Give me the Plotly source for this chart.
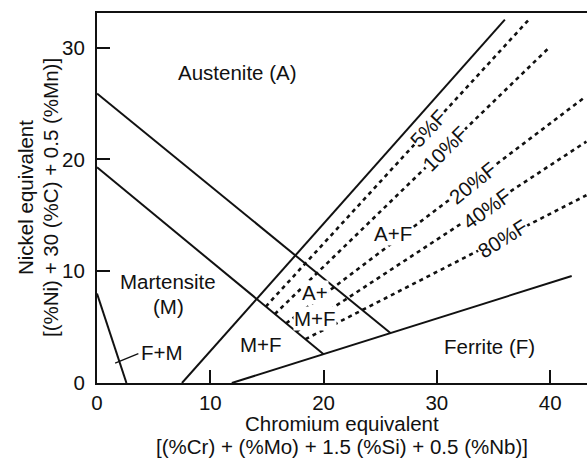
import plotly.graph_objects as go

# Phase boundaries (Cr equivalent, Ni equivalent)
austenite_boundary_x = [0.0, 25.9]
austenite_boundary_y = [25.9, 4.47]
martensite_boundary_x = [0.0, 20.0]
martensite_boundary_y = [19.3, 2.58]
ferrite_boundary_x = [11.9, 41.9]
ferrite_boundary_y = [0.0, 9.57]
zero_ferrite_x = [7.5, 36.0]
zero_ferrite_y = [0.0, 32.5]
fm_boundary_x = [0.0, 2.6]
fm_boundary_y = [8.0, 0.0]

# Iso-ferrite lines
ferrite_pct = ["5%F", "10%F", "20%F", "40%F", "80%F"]
iso_start_x = [14.9, 15.7, 16.7, 17.6, 18.4]
iso_start_y = [6.84, 6.17, 5.34, 4.59, 3.92]
iso_end_x = [38.2, 39.8, 43.1, 43.2, 43.2]
iso_end_y = [32.6, 29.9, 25.6, 21.6, 16.8]
iso_label_x = [29.2, 30.7, 33.2, 34.4, 35.8]
iso_label_y = [22.8, 21.0, 17.9, 15.6, 12.9]
iso_label_angle = [-47, -45, -39, -36, -32]

# Phase-field labels
region_text = ["Austenite (A)", "Martensite", "(M)", "F+M", "M+F",
               "A+", "M+F", "A+F", "Ferrite (F)"]
region_x = [12.4, 6.3, 6.3, 5.7, 14.5, 19.2, 19.2, 26.1, 34.6]
region_y = [27.8, 9.1, 6.85, 2.7, 3.45, 8.1, 5.8, 13.4, 3.3]
# Labels that sit on top of iso-ferrite lines get a white backing
region_backed = [False, False, False, False, False, True, True, True, False]

# Leader from the F+M label to its field
leader_x = [3.65, 1.6]
leader_y = [2.62, 1.77]

x_ticks = [0, 10, 20, 30, 40]
y_ticks = [0, 10, 20, 30]

FONT = "Liberation Sans, Arial, Helvetica, sans-serif"
FS = 20.5
INK = "#111111"

fig = go.Figure()

solid = dict(color=INK, width=2)
for xs, ys in [(austenite_boundary_x, austenite_boundary_y),
               (martensite_boundary_x, martensite_boundary_y),
               (ferrite_boundary_x, ferrite_boundary_y),
               (zero_ferrite_x, zero_ferrite_y),
               (fm_boundary_x, fm_boundary_y)]:
    fig.add_trace(go.Scatter(x=xs, y=ys, mode="lines", line=solid,
                             hoverinfo="skip", showlegend=False))

fig.add_trace(go.Scatter(x=leader_x, y=leader_y, mode="lines",
                         line=dict(color=INK, width=1.3),
                         hoverinfo="skip", showlegend=False))

for i in range(len(ferrite_pct)):
    fig.add_trace(go.Scatter(
        x=[iso_start_x[i], iso_end_x[i]], y=[iso_start_y[i], iso_end_y[i]],
        mode="lines", line=dict(color=INK, width=2.6, dash="4px,4px"),
        hoverinfo="skip", showlegend=False))

annotations = []
for t, x, y, backed in zip(region_text, region_x, region_y, region_backed):
    annotations.append(dict(x=x, y=y, xref="x", yref="y", text=t,
                            showarrow=False, borderpad=0,
                            bgcolor="white" if backed else "rgba(0,0,0,0)",
                            font=dict(family=FONT, size=FS, color=INK)))

for t, x, y, a in zip(ferrite_pct, iso_label_x, iso_label_y, iso_label_angle):
    annotations.append(dict(x=x, y=y, xref="x", yref="y", text=t,
                            textangle=a, showarrow=False, bgcolor="white",
                            borderpad=0,
                            font=dict(family=FONT, size=FS, color=INK)))

# Axis titles
annotations += [
    dict(x=0.5, y=0, xref="paper", yref="paper", yshift=-40,
         yanchor="middle", xanchor="center",
         text="Chromium equivalent", showarrow=False,
         font=dict(family=FONT, size=FS, color=INK)),
    dict(x=0.5, y=0, xref="paper", yref="paper", yshift=-63,
         yanchor="middle", xanchor="center",
         text="[(%Cr) + (%Mo) + 1.5 (%Si) + 0.5 (%Nb)]", showarrow=False,
         font=dict(family=FONT, size=FS, color=INK)),
    dict(x=0, y=0.5, xref="paper", yref="paper", xshift=-72,
         xanchor="center", yanchor="middle",
         text="Nickel equivalent", textangle=-90, showarrow=False,
         font=dict(family=FONT, size=FS, color=INK)),
    dict(x=0, y=0.5, xref="paper", yref="paper", xshift=-47,
         xanchor="center", yanchor="middle",
         text="[(%Ni) + 30 (%C) + 0.5 (%Mn)]", textangle=-90,
         showarrow=False, font=dict(family=FONT, size=FS, color=INK)),
]

axis_common = dict(showgrid=False, zeroline=False, showline=True,
                   linecolor=INK, linewidth=2, ticks="inside", ticklen=13,
                   tickwidth=1.6, tickcolor=INK,
                   tickfont=dict(family=FONT, size=FS, color=INK))

fig.update_layout(
    width=587, height=462,
    margin=dict(l=97, r=0, t=13, b=79),
    paper_bgcolor="white", plot_bgcolor="white",
    xaxis=dict(range=[0, 43.25], tickvals=x_ticks, mirror=True,
               ticklabelstandoff=0, **axis_common),
    yaxis=dict(range=[0, 33.1], tickvals=y_ticks, mirror=False,
               ticklabelstandoff=6, **axis_common),
    annotations=annotations,
)

fig.write_html("out.html")
